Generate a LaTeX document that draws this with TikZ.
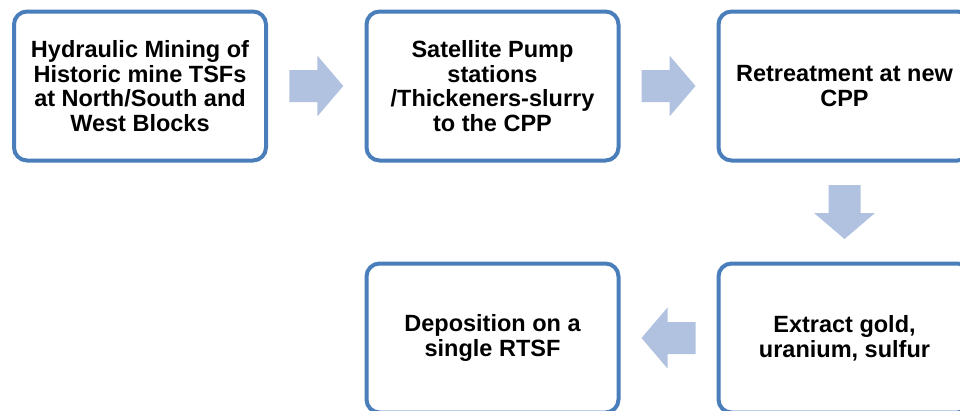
\documentclass[tikz,border=0pt]{standalone}
\usepackage{fontspec}
\setmainfont{Liberation Sans}
\usepackage{xcolor}
\usepackage{tikz}
\usetikzlibrary{calc}
\usetikzlibrary{positioning}

\definecolor{stepblue}{RGB}{74,126,187}
\definecolor{arrowblue}{RGB}{176,194,223}

\begin{document}
\begin{tikzpicture}[
    x=1pt, y=-1pt,
    stepbox/.style={draw=stepblue, line width=4pt, rounded corners=13pt,
      fill=white, minimum width=252pt, minimum height=149pt, inner sep=0pt,
      align=center, font=\fontsize{23.5}{24.8}\selectfont\bfseries},
    blockarrow/.style={fill=arrowblue}
  ]

    \useasboundingbox (0, 0) rectangle (960, 410);
    \clip (0, 0) rectangle (960, 410);

    \node [stepbox] (mining) at (140, 86)
    {Hydraulic Mining of\\Historic mine TSFs\\at North/South and\\West Blocks};
    \node [stepbox] (pumps) at (492.5, 86)
    {Satellite Pump\\stations\\/Thickeners-slurry\\to the CPP};
    \node [stepbox] (retreat) at (844.5, 86)
    {Retreatment at new\\CPP};
    \node [stepbox] (extract) at (844.5, 338)
    {Extract gold,\\uranium, sulfur};
    \node [stepbox] (deposit) at (492.5, 338)
    {Deposition on a\\single RTSF};

    \coordinate (toPumps) at ($(mining.east)!0.5!(pumps.west)$);
    \coordinate (toRetreat) at ($(pumps.east)!0.5!(retreat.west)$);
    \coordinate (toExtract) at ($(retreat.south)!0.5!(extract.north)$);
    \coordinate (toDeposit) at ($(extract.west)!0.5!(deposit.east)$);

    \foreach \at/\turn in {toPumps/0, toRetreat/0, toExtract/-90, toDeposit/180}
      \fill [blockarrow, shift={(\at)}, rotate=\turn]
      (-27, -16) -- (1, -16) -- (1, -30.5) -- (27, 0)
      -- (1, 30.5) -- (1, 16) -- (-27, 16) -- cycle;

  \end{tikzpicture}
\end{document}
